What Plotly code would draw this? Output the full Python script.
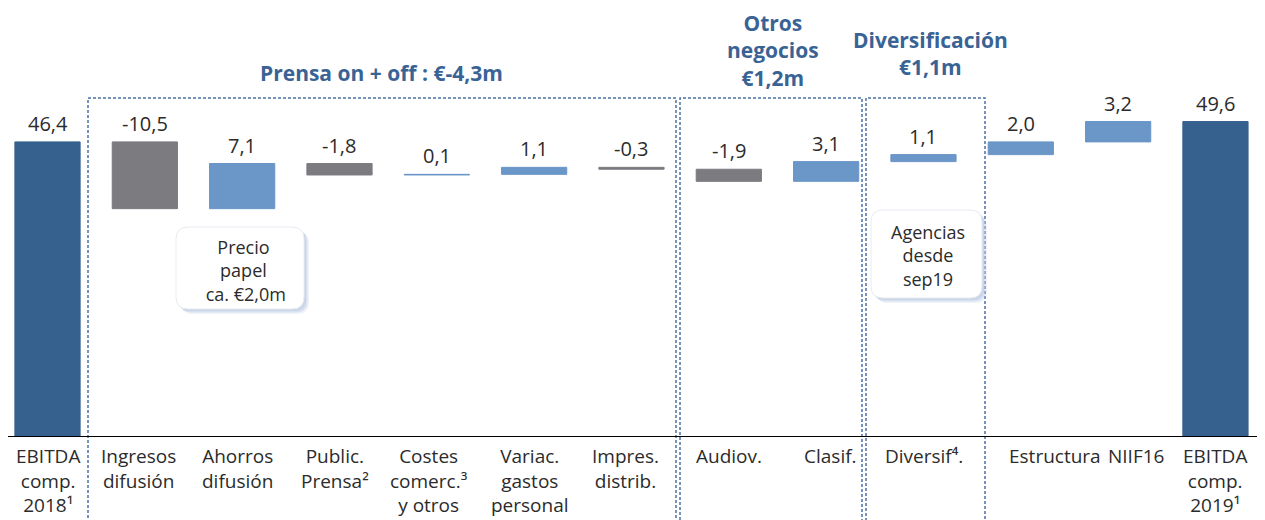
import plotly.graph_objects as go

# ---------------- data ----------------
categories = ["EBITDA comp. 2018¹", "Ingresos difusión", "Ahorros difusión", "Public. Prensa²",
              "Costes comerc.³ y otros", "Variac. gastos personal", "Impres. distrib.",
              "Audiov.", "Clasif.", "Diversif⁴.", "Estructura", "NIIF16", "EBITDA comp. 2019¹"]
tick_labels = ["EBITDA<br>comp.<br>2018¹", "Ingresos<br>difusión", "Ahorros<br>difusión",
               "Public.<br>Prensa²", "Costes<br>comerc.³<br>y otros", "Variac.<br>gastos<br>personal",
               "Impres.<br>distrib.", "Audiov.", "Clasif.", "Diversif⁴.", "Estructura", "NIIF16",
               "EBITDA<br>comp.<br>2019¹"]
values = [46.4, -10.5, 7.1, -1.8, 0.1, 1.1, -0.3, -1.9, 3.1, 1.1, 2.0, 3.2, 49.6]
value_labels = ["46,4", "-10,5", "7,1", "-1,8", "0,1", "1,1", "-0,3", "-1,9", "3,1", "1,1", "2,0", "3,2", "49,6"]
measures = ["absolute"] + ["relative"] * 11 + ["total"]

group_titles = ["Prensa on + off : €-4,3m", "Otros<br>negocios<br>€1,2m", "Diversificación<br>€1,1m"]
callouts = ["Precio<br>papel<br> ca. €2,0m", "Agencias<br>desde<br>sep19"]

# ---------------- layout helpers ----------------
OFF = 8                      # page body margin in the browser
W, H = 1265 - OFF, 520 - OFF
AXIS_Y = 437                 # page pixel of the value 0
PH = AXIS_Y - OFF            # plot area height (top margin 0)
MB = H - PH
FONT = "Open Sans"
TXT = "#2B2B2B"
TITLE_C = "#3A6395"
DARK = "#36618F"
LIGHT = "#6A96C8"
GREY = "#7C7B80"
PX_PER_UNIT = 6.36
STEP = 97.33
C0 = 47.5                    # page pixel of first category centre


def PX(px):
    return (px - OFF) / W


def PY(py):
    return (AXIS_Y - py) / PH


x_idx = list(range(len(categories)))

# bar tops (for value labels)
tops = []
run = 0.0
for m, v in zip(measures, values):
    if m == "absolute":
        run = v
        tops.append(v)
    elif m == "total":
        tops.append(run)
    else:
        start = run
        run = run + v
        tops.append(max(start, run))

fig = go.Figure()
fig.add_trace(go.Waterfall(
    x=x_idx, y=values, measure=measures,
    width=0.67,
    increasing=dict(marker=dict(color=LIGHT, line=dict(color=LIGHT, width=1))),
    decreasing=dict(marker=dict(color=GREY, line=dict(color=GREY, width=1))),
    totals=dict(marker=dict(color=DARK, line=dict(color=DARK, width=1))),
    connector=dict(visible=False),
    hoverinfo="skip",
    showlegend=False,
))

ann = []
for i, (t, lab) in enumerate(zip(tops, value_labels)):
    ann.append(dict(x=i, y=t, xref="x", yref="y", text=lab, showarrow=False,
                    xanchor="center", yanchor="bottom", yshift=3,
                    font=dict(family=FONT, size=20, color=TXT)))

label_shift = {1: -6, 2: -5, 3: -4, 4: -8, 5: -4, 6: -6, 8: 4, 9: 1, 10: 34, 11: 18}
for i, lab in enumerate(tick_labels):
    ann.append(dict(x=i, y=PY(441), xref="x", yref="paper", text=lab, showarrow=False,
                    xanchor="center", yanchor="top", xshift=label_shift.get(i, 0), align="center",
                    font=dict(family=FONT, size=19, color=TXT)))

# group titles
title_pos = [(381, 73), (773, 50), (930, 53)]
for (px, py), t in zip(title_pos, group_titles):
    ann.append(dict(x=PX(px), y=PY(py), xref="paper", yref="paper", text="<b>" + t + "</b>",
                    showarrow=False, align="center", xanchor="center", yanchor="middle",
                    font=dict(family=FONT, size=21, color=TITLE_C)))

shapes = []
# dashed group boxes
for x0, x1 in [(88, 676), (680, 862), (866, 985)]:
    shapes.append(dict(type="rect", xref="paper", yref="paper", x0=PX(x0), x1=PX(x1),
                       y0=PY(600), y1=PY(98),
                       line=dict(color="#4A70A3", width=1.5, dash="3px,2px"), fillcolor="rgba(0,0,0,0)",
                       layer="above"))


def rpath(x0, y0, x1, y1, r):
    X = lambda v: f"{PX(v):.5f}"
    Y = lambda v: f"{PY(v):.5f}"
    return (f"M {X(x0 + r)},{Y(y0)} L {X(x1 - r)},{Y(y0)} Q {X(x1)},{Y(y0)} {X(x1)},{Y(y0 + r)} "
            f"L {X(x1)},{Y(y1 - r)} Q {X(x1)},{Y(y1)} {X(x1 - r)},{Y(y1)} "
            f"L {X(x0 + r)},{Y(y1)} Q {X(x0)},{Y(y1)} {X(x0)},{Y(y1 - r)} "
            f"L {X(x0)},{Y(y0 + r)} Q {X(x0)},{Y(y0)} {X(x0 + r)},{Y(y0)} Z")


callout_boxes = [(176, 227, 304, 309), (871, 210, 982, 298)]
callout_text_pos = [(243, 270), (928, 256)]
for (x0, y0, x1, y1), (tx, ty), txt in zip(callout_boxes, callout_text_pos, callouts):
    for k, a in [(5, 0.25), (3.5, 0.45), (2, 0.6)]:
        shapes.append(dict(type="path", xref="paper", yref="paper",
                           path=rpath(x0 + k, y0 + k, x1 + k, y1 + k, 12),
                           line=dict(width=0), fillcolor=f"rgba(190,205,228,{a})", layer="above"))
    shapes.append(dict(type="path", xref="paper", yref="paper", path=rpath(x0, y0, x1, y1, 12),
                       line=dict(color="#E8EBF1", width=1), fillcolor="white", layer="above"))
    ann.append(dict(x=PX(tx), y=PY(ty), xref="paper", yref="paper", text=txt, showarrow=False,
                    align="center", xanchor="center", yanchor="middle",
                    font=dict(family=FONT, size=18, color=TXT)))

# axis line
shapes.append(dict(type="line", xref="paper", yref="y", x0=PX(8), x1=1.0, y0=0, y1=0,
                   line=dict(color="black", width=2), layer="above"))

fig.update_layout(
    width=W, height=H,
    margin=dict(l=0, r=0, t=0, b=MB),
    paper_bgcolor="white", plot_bgcolor="white",
    xaxis=dict(range=[(OFF - C0) / STEP, (OFF + W - C0) / STEP], showticklabels=False, showgrid=False,
               zeroline=False, showline=False, fixedrange=True),
    yaxis=dict(range=[0, PH / PX_PER_UNIT], showticklabels=False, showgrid=False, zeroline=False,
               showline=False, fixedrange=True),
    annotations=ann,
    shapes=shapes,
    showlegend=False,
)

fig.write_html("out.html")
